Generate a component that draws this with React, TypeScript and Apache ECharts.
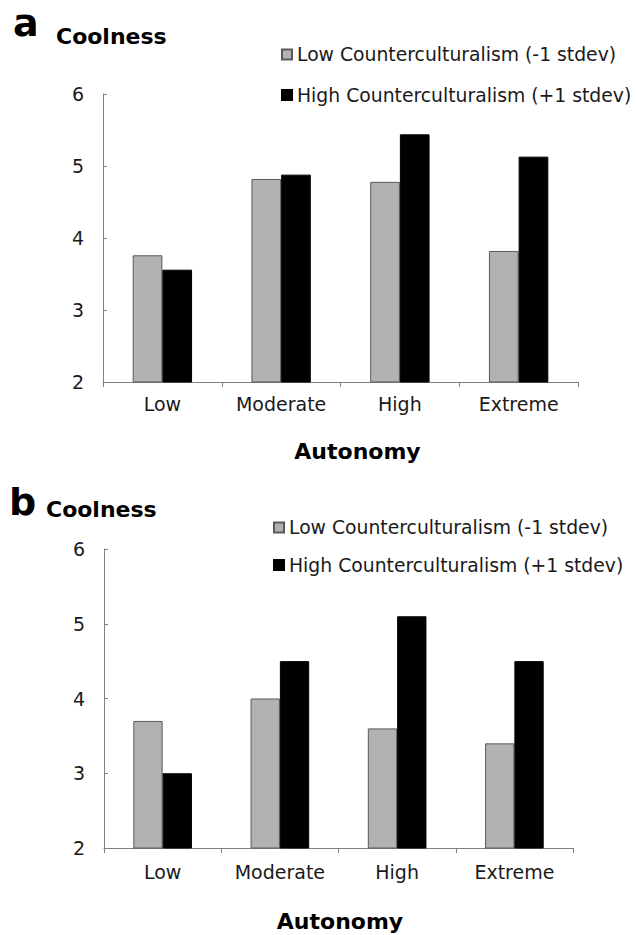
import React, { useEffect, useRef } from "react";
import * as echarts from "echarts";

const categories = ["Low", "Moderate", "High", "Extreme"];
const seriesNames = ["Low Counterculturalism (-1 stdev)", "High Counterculturalism (+1 stdev)"];
const panelALow = [3.76, 4.82, 4.78, 3.82];
const panelAHigh = [3.56, 4.88, 5.44, 5.13];
const panelBLow = [3.7, 4.0, 3.6, 3.4];
const panelBHigh = [3.0, 4.5, 5.1, 4.5];
const yMin = 2;
const yMax = 6;
const yInterval = 1;

const FONT = "DejaVu Sans";
const GRAY = "#b2b2b2";
const AXIS = "#808080";

export default function App() {
  const ref = useRef<HTMLDivElement>(null);
  useEffect(() => {
    if (!ref.current) return;
    const chart = echarts.init(ref.current, null, { renderer: "svg" });

    const yAxisBase = (gridIndex: number) => ({
      type: "value",
      gridIndex,
      min: yMin,
      max: yMax,
      interval: yInterval,
      splitLine: { show: false },
      axisLine: { show: true, lineStyle: { color: AXIS, width: 1 } },
      axisTick: { show: true, inside: true, length: 4, lineStyle: { color: AXIS } },
      axisLabel: { margin: 19, fontFamily: FONT, fontSize: 19, color: "#1a1a1a" },
    });
    const xAxisBase = (gridIndex: number, margin: number) => ({
      type: "category",
      gridIndex,
      data: categories,
      axisLine: { show: true, lineStyle: { color: AXIS, width: 1 } },
      axisTick: { show: true, length: 5, interval: 0, lineStyle: { color: AXIS } },
      axisLabel: { margin, interval: 0, fontFamily: FONT, fontSize: 19, color: "#1a1a1a" },
    });
    const barSeries = (name: string, data: number[], idx: number, dark: boolean) => ({
      name,
      type: "bar",
      xAxisIndex: idx,
      yAxisIndex: idx,
      data,
      barGap: "0%",
      barCategoryGap: "50%",
      itemStyle: dark
        ? { color: "#000000", borderColor: "#000000", borderWidth: 1 }
        : { color: GRAY, borderColor: "#5a5a5a", borderWidth: 1 },
    });
    const legendBase = (left: number, top: number, gap: number) => ({
      orient: "vertical",
      left,
      top,
      padding: 0,
      itemWidth: 10,
      itemHeight: 10,
      itemGap: gap,
      icon: "rect",
      selectedMode: false,
      data: seriesNames,
      textStyle: { fontFamily: FONT, fontSize: 18.8, color: "#1a1a1a", lineHeight: 20 },
    });

    const titleText = (text: string, x: number, y: number, size: number, align = "left") => ({
      type: "text",
      x,
      y,
      style: {
        text,
        fontFamily: FONT,
        fontWeight: "bold",
        fontSize: size,
        fill: "#000",
        align,
        verticalAlign: "middle",
      },
    });

    chart.setOption({
      animation: false,
      backgroundColor: "#ffffff",
      grid: [
        { left: 103, top: 94, width: 475, height: 288, containLabel: false },
        { left: 104, top: 549, width: 469, height: 299, containLabel: false },
      ],
      xAxis: [xAxisBase(0, 12), xAxisBase(1, 14)],
      yAxis: [yAxisBase(0), yAxisBase(1)],
      legend: [legendBase(281, 44.5, 20.5), legendBase(273, 517.5, 17.5)],
      series: [
        barSeries(seriesNames[0], panelALow, 0, false),
        barSeries(seriesNames[1], panelAHigh, 0, true),
        barSeries(seriesNames[0], panelBLow, 1, false),
        barSeries(seriesNames[1], panelBHigh, 1, true),
      ],
      graphic: [
        titleText("a", 13, 23, 38),
        titleText("Coolness", 56, 36.3, 22),
        titleText("Autonomy", 357.5, 451.3, 22, "center"),
        titleText("b", 9, 502, 38),
        titleText("Coolness", 46, 509.3, 22),
        titleText("Autonomy", 340, 921.3, 22, "center"),
      ],
    });
    return () => chart.dispose();
  }, []);

  return (
    <div
      ref={ref}
      style={{ position: "fixed", left: 0, top: 0, width: 636, height: 935, background: "#fff" }}
    />
  );
}
